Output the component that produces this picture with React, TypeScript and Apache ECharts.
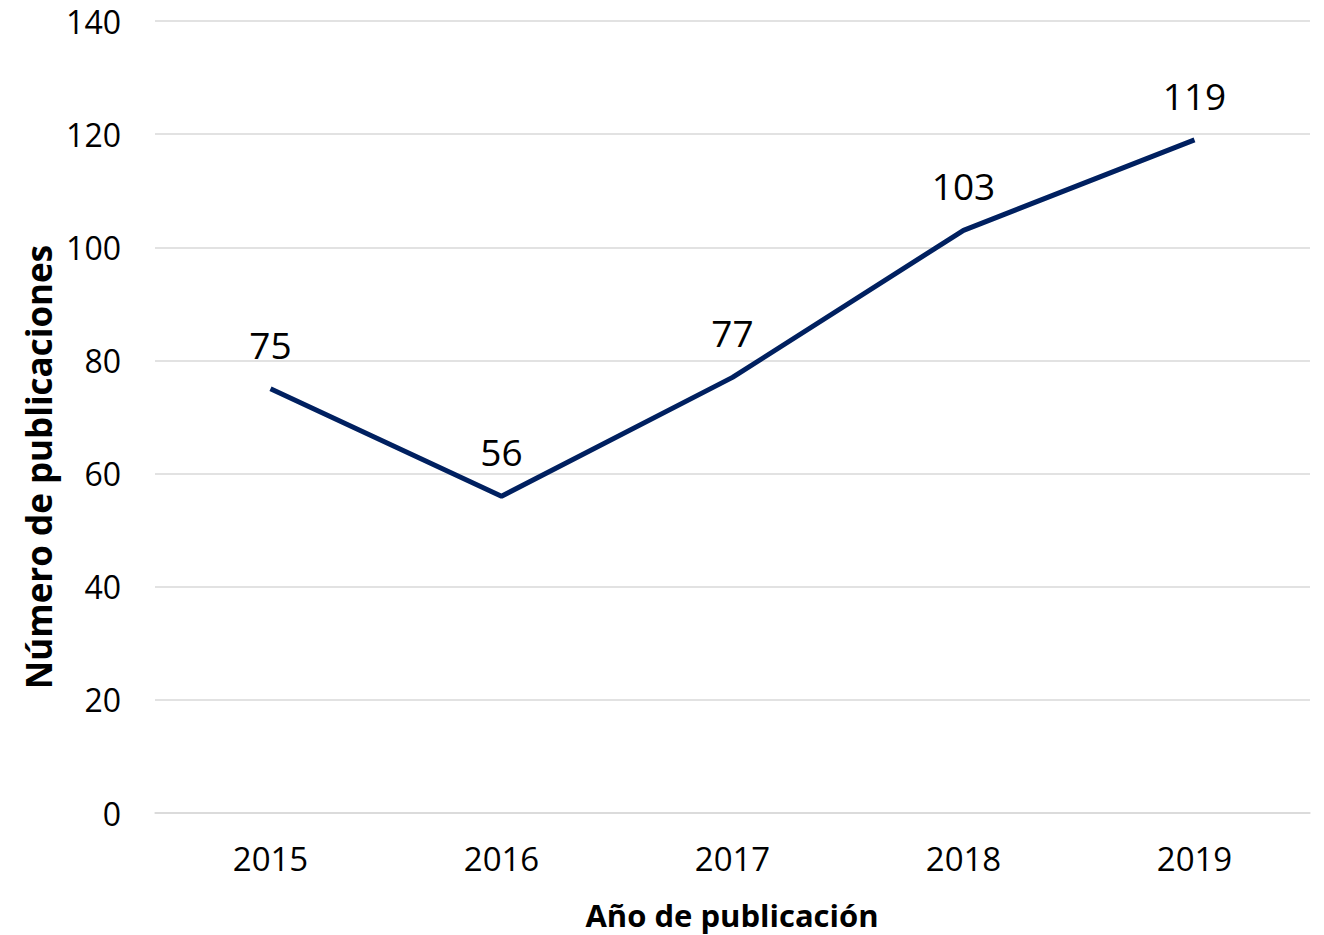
import React, { useEffect, useRef } from "react";
import * as echarts from "echarts";

const years = ["2015", "2016", "2017", "2018", "2019"];
const publicaciones = [75, 56, 77, 103, 119];
const yTicks = { min: 0, max: 140, interval: 20 };
const xTitle = "Año de publicación";
const yTitle = "Número de publicaciones";

const FONT = "'Open Sans', 'Noto Sans', sans-serif";

export default function App() {
  const ref = useRef<HTMLDivElement>(null);
  useEffect(() => {
    document.body.style.margin = "0";
    const chart = echarts.init(ref.current!, null, { renderer: "svg" });
    chart.setOption({
      animation: false,
      backgroundColor: "#ffffff",
      grid: { left: 155, right: 14, top: 21, bottom: 122, containLabel: false },
      xAxis: {
        type: "category",
        data: years,
        boundaryGap: true,
        axisLine: { show: true, lineStyle: { color: "#d9d9d9", width: 1.5 } },
        axisTick: { show: false },
        axisLabel: { color: "#000", fontSize: 33, fontFamily: FONT, margin: 29 },
      },
      yAxis: {
        type: "value",
        min: yTicks.min,
        max: yTicks.max,
        interval: yTicks.interval,
        axisLine: { show: false },
        axisTick: { show: false },
        splitLine: { lineStyle: { color: "#d9d9d9", width: 1.5 } },
        axisLabel: { color: "#000", fontSize: 32, fontFamily: FONT, margin: 34 },
      },
      graphic: [
        {
          type: "text",
          x: 732,
          y: 915,
          style: {
            text: xTitle,
            fill: "#000",
            font: `bold 31px ${FONT}`,
            align: "center",
            verticalAlign: "middle",
          },
        },
        {
          type: "text",
          x: 38,
          y: 467,
          rotation: Math.PI / 2,
          style: {
            text: yTitle,
            fill: "#000",
            font: `bold 35px ${FONT}`,
            align: "center",
            verticalAlign: "middle",
          },
        },
      ],
      series: [
        {
          type: "line",
          data: publicaciones,
          symbol: "circle",
          symbolSize: 0,
          showSymbol: true,
          lineStyle: { color: "#002060", width: 5 },
          itemStyle: { color: "#002060" },
          label: {
            show: true,
            position: "top",
            distance: 26,
            color: "#000",
            fontSize: 37,
            fontFamily: FONT,
          },
        },
      ],
    });
    return () => chart.dispose();
  }, []);
  return <div ref={ref} style={{ width: 1324, height: 935 }} />;
}
